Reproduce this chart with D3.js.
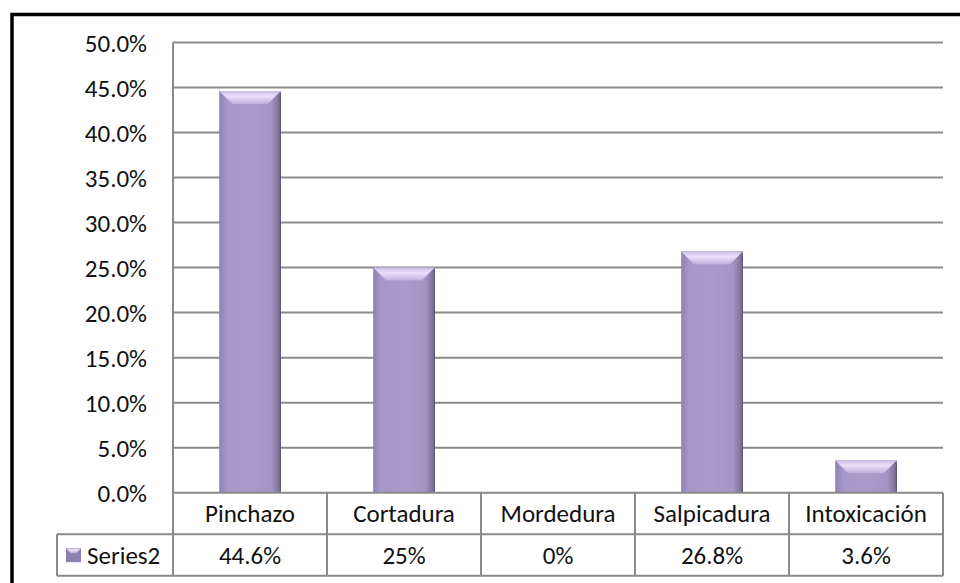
<!DOCTYPE html>
<meta charset="utf-8">
<style>
body { margin: 0; background: #fff; }
text { font-family: Carlito, "Liberation Sans", Arial, sans-serif; fill: #111; }
</style>
<svg width="960" height="583"></svg>
<script src="https://cdnjs.cloudflare.com/ajax/libs/d3/7.8.5/d3.min.js"></script>
<script>
var svg = d3.select("svg"),
    width = +svg.attr("width"),
    height = +svg.attr("height");

// data
var categories = ["Pinchazo", "Cortadura", "Mordedura", "Salpicadura", "Intoxicación"];
var values = [44.6, 25, 0, 26.8, 3.6];
var valueLabels = ["44.6%", "25%", "0%", "26.8%", "3.6%"];
var seriesName = "Series2";
var yTicks = [0, 5, 10, 15, 20, 25, 30, 35, 40, 45, 50];

// plot box
var plotLeft = 173, plotRight = 943, plotTop = 42.5, zero = 492.7;
var rowH = 41.5;
var tableLeft = 57;
var gridColor = "#8a8a8a";
var fontSize = "25px";

var x = d3.scaleBand().domain(categories).range([plotLeft, plotRight]).padding(0);
var y = d3.scaleLinear().domain([0, 50]).range([zero, plotTop]);

// outer frame (only top/left visible)
svg.append("rect")
    .attr("x", 12).attr("y", 14.5)
    .attr("width", width + 20).attr("height", height + 20)
    .attr("fill", "none").attr("stroke", "#000").attr("stroke-width", 3.5);

// gradients for the bevelled bars
var defs = svg.append("defs");
var body = defs.append("linearGradient").attr("id", "barBody");
body.append("stop").attr("offset", "0%").attr("stop-color", "#8e80b0");
body.append("stop").attr("offset", "12%").attr("stop-color", "#a597c7");
body.append("stop").attr("offset", "50%").attr("stop-color", "#a99bcb");
body.append("stop").attr("offset", "85%").attr("stop-color", "#a294c4");
body.append("stop").attr("offset", "100%").attr("stop-color", "#75688f");
var bevel = defs.append("linearGradient").attr("id", "barBevel")
    .attr("x1", 0).attr("y1", 0).attr("x2", 0).attr("y2", 1);
bevel.append("stop").attr("offset", "0%").attr("stop-color", "#c9bce3");
bevel.append("stop").attr("offset", "40%").attr("stop-color", "#ebe0fa");
bevel.append("stop").attr("offset", "100%").attr("stop-color", "#bcaed9");

// gridlines
svg.append("g")
    .selectAll("line")
    .data(yTicks.filter(function(d) { return d > 0; }))
    .enter().append("line")
    .attr("x1", plotLeft).attr("x2", plotRight)
    .attr("y1", function(d) { return y(d); })
    .attr("y2", function(d) { return y(d); })
    .attr("stroke", gridColor).attr("stroke-width", 2);

// y axis labels
var yAxis = d3.axisLeft(y)
    .tickValues(yTicks)
    .tickSize(0)
    .tickPadding(26)
    .tickFormat(function(d) { return d3.format(".1f")(d) + "%"; });
var ya = svg.append("g").attr("transform", "translate(" + plotLeft + ",0)").call(yAxis);
ya.select(".domain").remove();
ya.selectAll("text")
    .style("font-size", fontSize)
    .attr("dy", "0.36em");

// bars
var bw = x.bandwidth() * 0.4;
function barX(i) { return x(categories[i]) + (x.bandwidth() - bw) / 2; }

var bars = svg.append("g")
    .selectAll("g")
    .data(values.map(function(v, i) { return {v: v, i: i}; }).filter(function(d) { return d.v > 0; }))
    .enter().append("g");

bars.append("rect")
    .attr("x", function(d) { return barX(d.i); })
    .attr("y", function(d) { return y(d.v); })
    .attr("width", bw)
    .attr("height", function(d) { return zero - y(d.v); })
    .attr("fill", "url(#barBody)");

bars.append("path")
    .attr("d", function(d) {
        var x0 = barX(d.i),
            y0 = y(d.v),
            b = Math.min(13, (zero - y0) / 2);
        return "M" + x0 + "," + y0 + "H" + (x0 + bw) +
            "L" + (x0 + bw - b) + "," + (y0 + b) + "H" + (x0 + b) + "Z";
    })
    .attr("fill", "url(#barBevel)");

bars.append("line")
    .attr("x1", function(d) { return barX(d.i) + bw - 0.5; })
    .attr("x2", function(d) { return barX(d.i) + bw - 0.5; })
    .attr("y1", function(d) { return y(d.v) + 2; })
    .attr("y2", zero)
    .attr("stroke", "#5b4f72").attr("stroke-width", 1);

// data table
var t = svg.append("g").attr("stroke", gridColor).attr("stroke-width", 2);
t.append("line").attr("x1", plotLeft).attr("x2", plotRight).attr("y1", zero).attr("y2", zero);
t.append("line").attr("x1", tableLeft).attr("x2", plotRight).attr("y1", zero + rowH).attr("y2", zero + rowH);
t.append("line").attr("x1", tableLeft).attr("x2", plotRight).attr("y1", zero + 2 * rowH).attr("y2", zero + 2 * rowH);
t.append("line").attr("x1", tableLeft).attr("x2", tableLeft).attr("y1", zero + rowH).attr("y2", zero + 2 * rowH);
t.append("line").attr("x1", plotLeft).attr("x2", plotLeft).attr("y1", plotTop).attr("y2", zero + 2 * rowH);
t.selectAll(".col")
    .data(categories)
    .enter().append("line")
    .attr("x1", function(d) { return x(d) + x.bandwidth(); })
    .attr("x2", function(d) { return x(d) + x.bandwidth(); })
    .attr("y1", zero).attr("y2", zero + 2 * rowH);

svg.append("g")
    .selectAll("text")
    .data(categories)
    .enter().append("text")
    .attr("x", function(d) { return x(d) + x.bandwidth() / 2; })
    .attr("y", zero + rowH / 2)
    .attr("dy", "0.36em")
    .attr("text-anchor", "middle")
    .style("font-size", fontSize)
    .text(function(d) { return d; });

svg.append("g")
    .selectAll("text")
    .data(valueLabels)
    .enter().append("text")
    .attr("x", function(d, i) { return x(categories[i]) + x.bandwidth() / 2; })
    .attr("y", zero + rowH * 1.5)
    .attr("dy", "0.36em")
    .attr("text-anchor", "middle")
    .style("font-size", fontSize)
    .text(function(d) { return d; });

// legend key + series name
svg.append("rect")
    .attr("x", 66).attr("y", zero + rowH + 14)
    .attr("width", 15).attr("height", 14)
    .attr("fill", "#8f80b2");
svg.append("path")
    .attr("d", "M66," + (zero + rowH + 14) + "h15l-5,5h-5z")
    .attr("fill", "url(#barBevel)");
svg.append("text")
    .attr("x", 87).attr("y", zero + rowH * 1.5)
    .attr("dy", "0.36em")
    .style("font-size", fontSize)
    .text(seriesName);
</script>
